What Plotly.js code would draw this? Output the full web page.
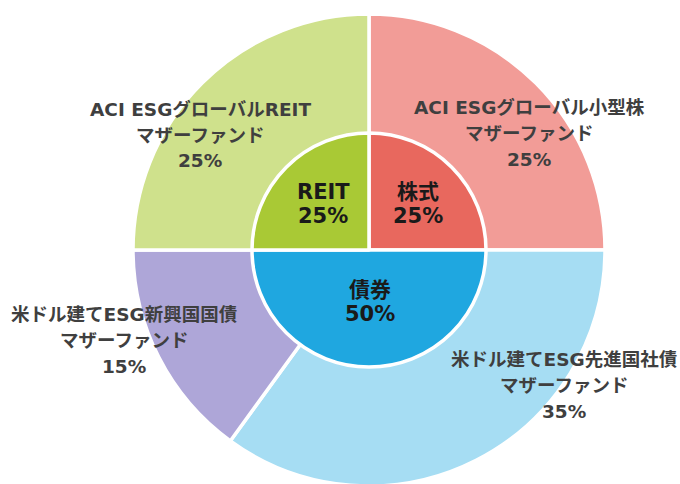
<!DOCTYPE html>
<html>
<head>
<meta charset="utf-8">
<script src="https://cdn.plot.ly/plotly-3.0.1.min.js"></script>
<style>
  html, body { margin: 0; padding: 0; overflow: hidden; background: #fff; }
  #chart { width: 680px; height: 490px; }
</style>
</head>
<body>
<div id="chart"></div>
<script>
// ---- data ----
var assetClasses = ['株式', '債券', 'REIT'];
var assetValues = [25, 50, 25];

var fundNames = ['ACI ESGグローバル小型株', '米ドル建てESG先進国社債', '米ドル建てESG新興国国債', 'ACI ESGグローバルREIT'];
var fundSuffix = 'マザーファンド';
var fundValues = [25, 35, 15, 25];

// ---- styles ----
var assetColors = ['#E8685E', '#1FA7E0', '#A9C935'];
var fundColors = ['#F29C97', '#A6DDF3', '#AEA6D8', '#CFE18C'];

var W = 680, H = 490;
var cx = 369, cy = 250, rOuter = 236, rInner = 117;

// label anchor positions (pixel, top-left origin) for text only
var assetLabelPos = [[418, 192], [370, 290], [323, 192]];
var fundLabelPos = [[529, 108], [564, 359], [124, 314], [200, 109]];

function px(x) { return x / W; }
function py(y) { return 1 - y / H; }

var outer = {
  type: 'pie',
  labels: fundNames,
  values: fundValues,
  sort: false,
  direction: 'clockwise',
  rotation: 0,
  hole: 0.49,
  textinfo: 'none',
  hoverinfo: 'skip',
  marker: { colors: fundColors, line: { color: '#ffffff', width: 3.5 } },
  domain: { x: [px(cx - rOuter), px(cx + rOuter)], y: [py(cy + rOuter), py(cy - rOuter)] },
  showlegend: false
};

var inner = {
  type: 'pie',
  labels: assetClasses,
  values: assetValues,
  sort: false,
  direction: 'clockwise',
  rotation: 0,
  textinfo: 'none',
  hoverinfo: 'skip',
  marker: { colors: assetColors, line: { color: '#ffffff', width: 3.5 } },
  domain: { x: [px(cx - rInner), px(cx + rInner)], y: [py(cy + rInner), py(cy - rInner)] },
  showlegend: false
};

var annotations = [];
var fontFam = 'DejaVu Sans, "Noto Sans CJK JP", sans-serif';

assetClasses.forEach(function (name, i) {
  var lines = [name, assetValues[i] + '%'];
  var gapIn = [0, 24];
  lines.forEach(function (t, j) {
    annotations.push({
      xref: 'paper', yref: 'paper',
      x: px(assetLabelPos[i][0]), y: py(assetLabelPos[i][1] + gapIn[j]),
      text: '<b>' + t + '</b>', showarrow: false,
      xanchor: 'center', yanchor: 'middle',
      font: { family: fontFam, size: 21, color: '#1a1a1a' }
    });
  });
});

fundNames.forEach(function (name, i) {
  var lines = [name, fundSuffix, fundValues[i] + '%'];
  lines.forEach(function (t, j) {
    annotations.push({
      xref: 'paper', yref: 'paper',
      x: px(fundLabelPos[i][0]), y: py(fundLabelPos[i][1] + j * 26),
      text: '<b>' + t + '</b>', showarrow: false,
      xanchor: 'center', yanchor: 'middle',
      font: { family: fontFam, size: 18.5, color: '#3f3f3f' }
    });
  });
});

var layout = {
  width: W, height: H,
  margin: { l: 0, r: 0, t: 0, b: 0 },
  paper_bgcolor: '#ffffff',
  showlegend: false,
  annotations: annotations
};

Plotly.newPlot('chart', [outer, inner], layout, { displayModeBar: false, staticPlot: true });
</script>
</body>
</html>
